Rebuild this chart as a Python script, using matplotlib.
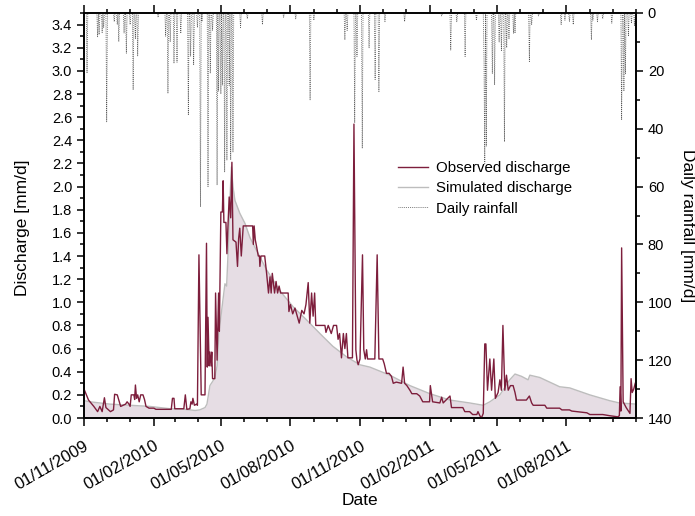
import numpy as np
import matplotlib
matplotlib.use("Agg")
import matplotlib.pyplot as plt
import matplotlib.dates as mdates
from matplotlib.ticker import MultipleLocator, FixedLocator, FormatStrFormatter
from datetime import datetime

plt.rcParams['font.family'] = ['Liberation Sans', 'DejaVu Sans']

# ---------------- data (days counted from 01/11/2009) ----------------
start_date = datetime(2009, 11, 1)
n_days = 730

obs_days = [0, 6, 13, 18, 21, 24, 27, 29, 35, 39, 40.5, 44, 46, 48.5, 55, 57, 59.5, 61,
            62.5, 66, 67, 68, 69.5, 71, 73, 75, 78, 80, 82, 86, 92.5, 95, 115.4, 117, 119,
            120, 132, 134, 136, 140, 141.4, 143, 144, 146, 149, 150, 152, 155, 160, 162,
            163, 164, 165.5, 166.5, 168, 169, 170, 173, 174, 176, 178, 179, 181, 183, 184,
            185, 187.7, 189, 190, 192, 194, 195.6, 197, 201, 203, 204.5, 206, 208, 210.6,
            223, 224, 225, 226.5, 228, 230.5, 232, 232.6, 234, 239, 241.5, 244, 246, 247.5,
            249, 252, 254, 256, 258, 260, 270, 271, 273, 276, 279, 282, 284.6, 288, 291,
            293.5, 296.5, 298.6, 301, 303, 305, 306.5, 318.6, 320, 323, 327, 330, 334, 336,
            338, 340.5, 343, 345, 347, 349, 355, 357, 359.5, 361, 362.6, 365, 368.3, 370,
            372, 373.7, 375, 380.7, 384.6, 387.7, 390, 395, 397, 400, 403.5, 406.6, 409,
            413, 420, 422, 424, 427, 431, 433.6, 440, 444, 448, 457, 458, 461, 470.6, 473,
            475, 484, 486, 501, 503.6, 510, 514, 519.5, 521, 523.5, 525.6, 528, 530, 531.5,
            533.6, 536.7, 539, 542, 544, 547.6, 550, 552, 554, 556.5, 558.7, 561, 564,
            567.5, 570, 572, 585, 589, 592, 594, 609.5, 612, 629, 632, 642, 645, 665, 669,
            686, 695, 706, 708, 709, 710, 711, 713, 717, 721, 722, 723.5, 725, 727, 729]
obs_vals = [0.25, 0.155, 0.10, 0.055, 0.10, 0.055, 0.175, 0.09, 0.055, 0.07, 0.205, 0.20,
            0.155, 0.10, 0.12, 0.14, 0.12, 0.10, 0.20, 0.20, 0.16, 0.285, 0.17, 0.20, 0.14,
            0.20, 0.20, 0.16, 0.10, 0.085, 0.085, 0.075, 0.075, 0.17, 0.17, 0.08, 0.08, 0.20,
            0.075, 0.08, 0.14, 0.12, 0.17, 0.11, 0.12, 0.11, 1.41, 0.20, 0.20, 1.51, 0.44,
            0.87, 0.45, 0.57, 0.45, 0.57, 0.34, 0.34, 1.08, 0.50, 1.08, 0.75, 1.78, 1.78,
            2.05, 1.69, 1.69, 1.42, 1.60, 1.91, 1.73, 2.21, 1.54, 1.52, 1.31, 1.55, 1.64,
            1.40, 1.66, 1.66, 1.50, 1.66, 1.54, 1.49, 1.40, 1.40, 1.31, 1.40, 1.40, 1.25,
            1.08, 1.22, 1.08, 1.25, 1.08, 1.18, 1.08, 1.14, 1.08, 1.08, 0.92, 0.98, 0.90,
            0.95, 0.88, 0.82, 0.93, 0.90, 0.98, 1.17, 0.82, 1.08, 0.88, 1.08, 0.80, 0.80,
            0.74, 0.80, 0.73, 0.80, 0.80, 0.68, 0.73, 0.52, 0.73, 0.60, 0.73, 0.52, 0.52,
            2.54, 0.59, 0.50, 0.46, 0.51, 1.41, 0.59, 0.51, 0.59, 0.51, 0.51, 0.51, 1.41,
            0.51, 0.51, 0.47, 0.386, 0.386, 0.36, 0.30, 0.31, 0.30, 0.44, 0.30, 0.28, 0.24,
            0.21, 0.21, 0.19, 0.14, 0.14, 0.28, 0.14, 0.13, 0.18, 0.13, 0.19, 0.09, 0.09,
            0.055, 0.055, 0.03, 0.03, 0.055, 0.02, 0.0, 0.04, 0.64, 0.64, 0.24, 0.51, 0.24,
            0.51, 0.17, 0.22, 0.33, 0.24, 0.80, 0.24, 0.37, 0.24, 0.28, 0.28, 0.22, 0.155,
            0.155, 0.19, 0.13, 0.11, 0.11, 0.085, 0.085, 0.07, 0.07, 0.06, 0.045, 0.03, 0.03,
            0.02, 0.01, 0.02, 0.27, 0.06, 1.47, 0.14, 0.09, 0.05, 0.04, 0.34, 0.22, 0.25, 0.30]

sim_days = [0, 8, 34, 61, 87, 114, 133.5, 147, 153, 160, 162.6, 166.5, 170.5, 173, 176,
            178.5, 180, 182.4, 186.4, 188.6, 190.7, 193, 195, 197, 199.6, 206, 213, 219.4,
            228, 241.5, 259, 276.7, 294, 312, 329, 347, 364.8, 378, 404.5, 431, 457.4, 484,
            510, 528, 536.7, 550, 563, 570, 578.6, 587.3, 589.6, 602.8, 629, 642.4, 668.8,
            695, 708, 730]
sim_vals = [0.15, 0.14, 0.12, 0.11, 0.10, 0.08, 0.075, 0.065, 0.07, 0.09, 0.12, 0.28, 0.32,
            0.35, 0.45, 0.75, 0.82, 0.95, 1.16, 1.14, 1.45, 1.90, 2.17, 2.00, 1.88, 1.77,
            1.68, 1.56, 1.45, 1.28, 1.10, 0.96, 0.85, 0.73, 0.62, 0.53, 0.46, 0.44, 0.37,
            0.28, 0.21, 0.155, 0.13, 0.11, 0.14, 0.20, 0.33, 0.38, 0.36, 0.33, 0.37, 0.35,
            0.27, 0.26, 0.20, 0.15, 0.13, 0.12]

rain_days = [4, 18, 20, 24, 26, 30, 40, 44, 46, 53, 56, 61, 65, 68, 71, 98, 108, 111, 114,
             119, 123, 128, 138, 141, 145, 150, 154, 156, 164, 167, 170, 176, 178, 181, 183,
             186, 189, 192, 194, 197, 207, 216, 236, 264, 280, 299, 304, 345, 348, 358, 361,
             368, 377, 385, 390, 398, 424, 473, 485, 493, 504, 519, 529, 530, 532, 540, 543,
             549, 552, 556, 559, 562, 568, 570, 589, 592, 601, 631, 636, 642, 647, 671, 673,
             679, 686, 698, 711, 714, 716, 720, 724, 728]
rain_mm = [20.8, 8.2, 7.5, 6.8, 5.0, 37.6, 3.0, 4.0, 9.9, 7.0, 13.9, 4.0, 26.6, 9.0, 14.8,
           1.5, 8.0, 27.8, 10.0, 17.4, 17.0, 7.0, 35.3, 15.0, 18.0, 5.0, 67.0, 3.0, 60.0,
           20.7, 6.0, 59.5, 27.0, 28.0, 25.0, 54.9, 50.8, 25.0, 50.8, 48.0, 5.0, 2.0, 4.0,
           1.5, 2.0, 30.0, 2.5, 9.3, 6.0, 38.0, 15.0, 46.8, 12.0, 23.0, 27.2, 3.0, 3.0, 1.0,
           12.8, 3.0, 15.0, 2.5, 17.0, 52.0, 46.0, 20.9, 24.9, 10.0, 13.0, 44.5, 12.0, 9.0,
           7.0, 7.0, 16.8, 4.0, 1.0, 4.0, 2.5, 3.0, 4.0, 9.3, 2.5, 3.0, 2.0, 3.5, 37.0, 27.0,
           21.0, 8.0, 3.5, 4.5]

tick_dates = ['2009-11-01', '2010-02-01', '2010-05-01', '2010-08-01', '2010-11-01',
              '2011-02-01', '2011-05-01', '2011-08-01']
tick_labels = ['01/11/2009', '01/02/2010', '01/05/2010', '01/08/2010', '01/11/2010',
               '01/02/2011', '01/05/2011', '01/08/2011']

# ---------------- build ----------------
t0 = mdates.date2num(start_date)
obs_x = t0 + np.array(obs_days)
sim_x = t0 + np.array(sim_days)
rain_daily = np.zeros(n_days + 1)
rain_daily[np.array(rain_days)] = rain_mm
rain_x = t0 + np.arange(n_days + 1)

obs_color = '#7D1E3C'
sim_color = '#BDBDBD'
fill_color = '#E6DDE4'

fig = plt.figure(figsize=(6.95, 5.16), dpi=100)
ax = fig.add_axes([84/695, 1 - 418/516, (636-84)/695, (418-13)/516])
ax2 = ax.twinx()

ax.fill_between(sim_x, 0, sim_vals, color=fill_color, lw=0, zorder=1)
l_sim, = ax.plot(sim_x, sim_vals, color=sim_color, lw=1.0, zorder=2,
                 label='Simulated discharge')
l_obs, = ax.plot(obs_x, obs_vals, color=obs_color, lw=1.0, zorder=3,
                 label='Observed discharge')
l_rain, = ax2.plot(rain_x, rain_daily, color='#555555', lw=0.6, ls=(0, (1, 1.3)),
                   label='Daily rainfall')

ax.set_xlim(t0, t0 + n_days)
ax.set_ylim(0, 3.5)
ax2.set_ylim(140, 0)

ax.xaxis.set_major_locator(FixedLocator(mdates.datestr2num(tick_dates)))
ax.xaxis.set_minor_locator(mdates.MonthLocator())
ax.set_xticklabels(tick_labels, rotation=30, ha='right', rotation_mode='anchor')
ax.yaxis.set_major_locator(MultipleLocator(0.2))
ax.yaxis.set_minor_locator(MultipleLocator(0.1))
ax.yaxis.set_major_formatter(FormatStrFormatter('%.1f'))
ax2.yaxis.set_major_locator(MultipleLocator(20))
ax2.yaxis.set_minor_locator(MultipleLocator(10))

for a in (ax, ax2):
    for s in a.spines.values():
        s.set_linewidth(1.2)
ax.tick_params(axis='both', which='major', direction='out', length=5, width=1.1,
               labelsize=10.5, top=True)
ax.tick_params(axis='both', which='minor', direction='out', length=2.8, width=1.1, top=True)
ax.tick_params(axis='x', which='major', length=5.5, pad=9, labelsize=12)
ax2.tick_params(axis='y', which='major', direction='out', length=5, width=1.1, labelsize=10.5)
ax2.tick_params(axis='y', which='minor', direction='out', length=2.8, width=1.1)

ax.set_xlabel('Date', fontsize=12.5, labelpad=0)
ax.set_ylabel('Discharge [mm/d]', fontsize=12.5)
ax.yaxis.set_label_coords(-0.098, 0.469)
ax2.set_ylabel('Daily rainfall [mm/d]', fontsize=12.5, rotation=270, va='center')
ax2.yaxis.set_label_coords(1.0938, 0.474)

ax.legend(handles=[l_obs, l_sim, l_rain], loc='upper left',
          bbox_to_anchor=((398-84)/552, (418-161)/405), frameon=False, fontsize=10.8,
          borderpad=0, borderaxespad=0, handlelength=2.0, handletextpad=0.55,
          labelspacing=0.42)

fig.savefig('out.png', dpi=100)
